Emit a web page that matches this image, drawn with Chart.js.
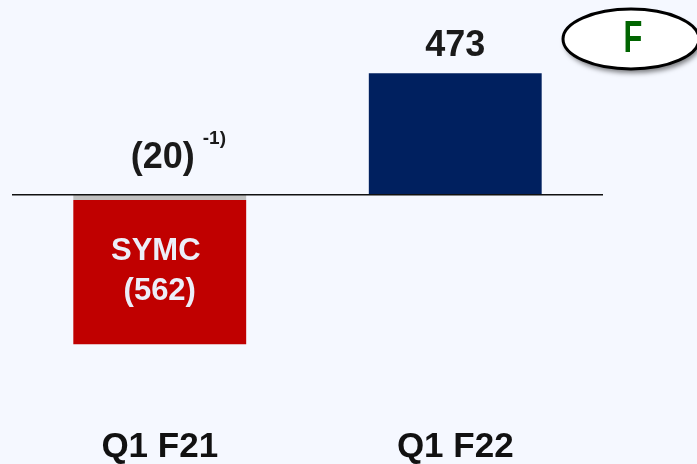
<!DOCTYPE html>
<html>
<head>
<meta charset="utf-8">
<script src="https://cdn.jsdelivr.net/npm/chart.js@4.4.0/dist/chart.umd.min.js"></script>
<style>
  html, body { margin: 0; padding: 0; background: #f5f8ff; }
  #wrap { width: 697px; height: 464px; }
</style>
</head>
<body>
<div id="wrap"><canvas id="chart" width="697" height="464"></canvas></div>
<script>
// Values
const categories = ["Q1 F21", "Q1 F22"];
const adjustValues = [-20, null];     // grey slice
const symcValues = [-562, null];      // red bar
const totalValues = [null, 473];      // blue bar
const valueLabels = ["(20)", "473"];
const footnote = "-1)";
const symcLabel = ["SYMC", "(562)"];
const badgeText = "F";

const FONT = "'Liberation Sans', Arial, sans-serif";

// background + zero line
const backdrop = {
    id: "backdrop",
    beforeDraw(chart) {
        const c = chart.ctx;
        c.save();
        c.fillStyle = "#f5f8ff";
        c.fillRect(0, 0, chart.width, chart.height);
        c.restore();
    },
    afterDatasetsDraw(chart) {
        const c = chart.ctx;
        const y = chart.scales.y.getPixelForValue(0);
        const area = chart.chartArea;
        c.save();
        c.strokeStyle = "#111111";
        c.lineWidth = 1.6;
        c.beginPath();
        c.moveTo(area.left, y);
        c.lineTo(area.right, y);
        c.stroke();
        c.restore();
    }
};

// text on and above the bars
const barText = {
    id: "barText",
    afterDraw(chart) {
        const c = chart.ctx;
        const yZero = chart.scales.y.getPixelForValue(0);
        const grey = chart.getDatasetMeta(0).data[0];
        const blue = chart.getDatasetMeta(2).data[1];
        const red = chart.getDatasetMeta(1).data[0];
        c.save();
        c.fillStyle = "#1a1a1a";
        c.textAlign = "center";
        c.textBaseline = "middle";
        c.font = "bold 36px " + FONT;
        c.fillText(valueLabels[1], blue.x, blue.y - 27);
        c.fillText(valueLabels[0], grey.x + 3, yZero - 37);
        c.font = "bold 19px " + FONT;
        c.textAlign = "left";
        c.fillText(footnote, grey.x + 43, yZero - 56);
        // label inside the red bar
        c.fillStyle = "#eceef8";
        c.textAlign = "center";
        c.font = "bold 31px " + FONT;
        c.fillText(symcLabel[0], red.x - 4, yZero + 57);
        c.fillText(symcLabel[1], red.x, yZero + 97);
        c.restore();
    }
};

// oval badge in the top right corner
const badge = {
    id: "badge",
    afterDraw(chart) {
        const c = chart.ctx;
        c.save();
        c.shadowColor = "rgba(0,0,0,0.5)";
        c.shadowBlur = 5;
        c.shadowOffsetX = 2;
        c.shadowOffsetY = 4;
        c.beginPath();
        c.ellipse(631, 39, 68, 30, 0, 0, Math.PI * 2);
        c.fillStyle = "#ffffff";
        c.fill();
        c.shadowColor = "transparent";
        c.lineWidth = 3;
        c.strokeStyle = "#000000";
        c.stroke();
        c.translate(633, 40);
        c.scale(0.7, 1);
        c.fillStyle = "#006400";
        c.font = "bold 44px " + FONT;
        c.textAlign = "center";
        c.textBaseline = "middle";
        c.fillText(badgeText, 0, 0);
        c.restore();
    }
};

const chart = new Chart(document.getElementById("chart").getContext("2d"), {
    type: "bar",
    data: {
        labels: categories,
        datasets: [
            { label: "Adjustment", data: adjustValues, backgroundColor: "#c0c0c0" },
            { label: "SYMC", data: symcValues, backgroundColor: "#c00000" },
            { label: "Total", data: totalValues, backgroundColor: "#00205f" }
        ]
    },
    options: {
        responsive: false,
        animation: false,
        categoryPercentage: 1,
        barPercentage: 0.585,
        layout: { padding: { left: 12, right: 94, top: 15, bottom: -4 } },
        plugins: {
            legend: { display: false },
            tooltip: { enabled: false }
        },
        scales: {
            x: {
                stacked: true,
                grid: { display: false, drawTicks: false },
                border: { display: false },
                ticks: {
                    color: "#111111",
                    padding: 0,
                    font: { family: FONT, size: 35, weight: "bold", lineHeight: 1.2 }
                }
            },
            y: {
                stacked: true,
                display: false,
                min: -900,
                max: 700
            }
        }
    },
    plugins: [backdrop, barText, badge]
});
</script>
</body>
</html>
